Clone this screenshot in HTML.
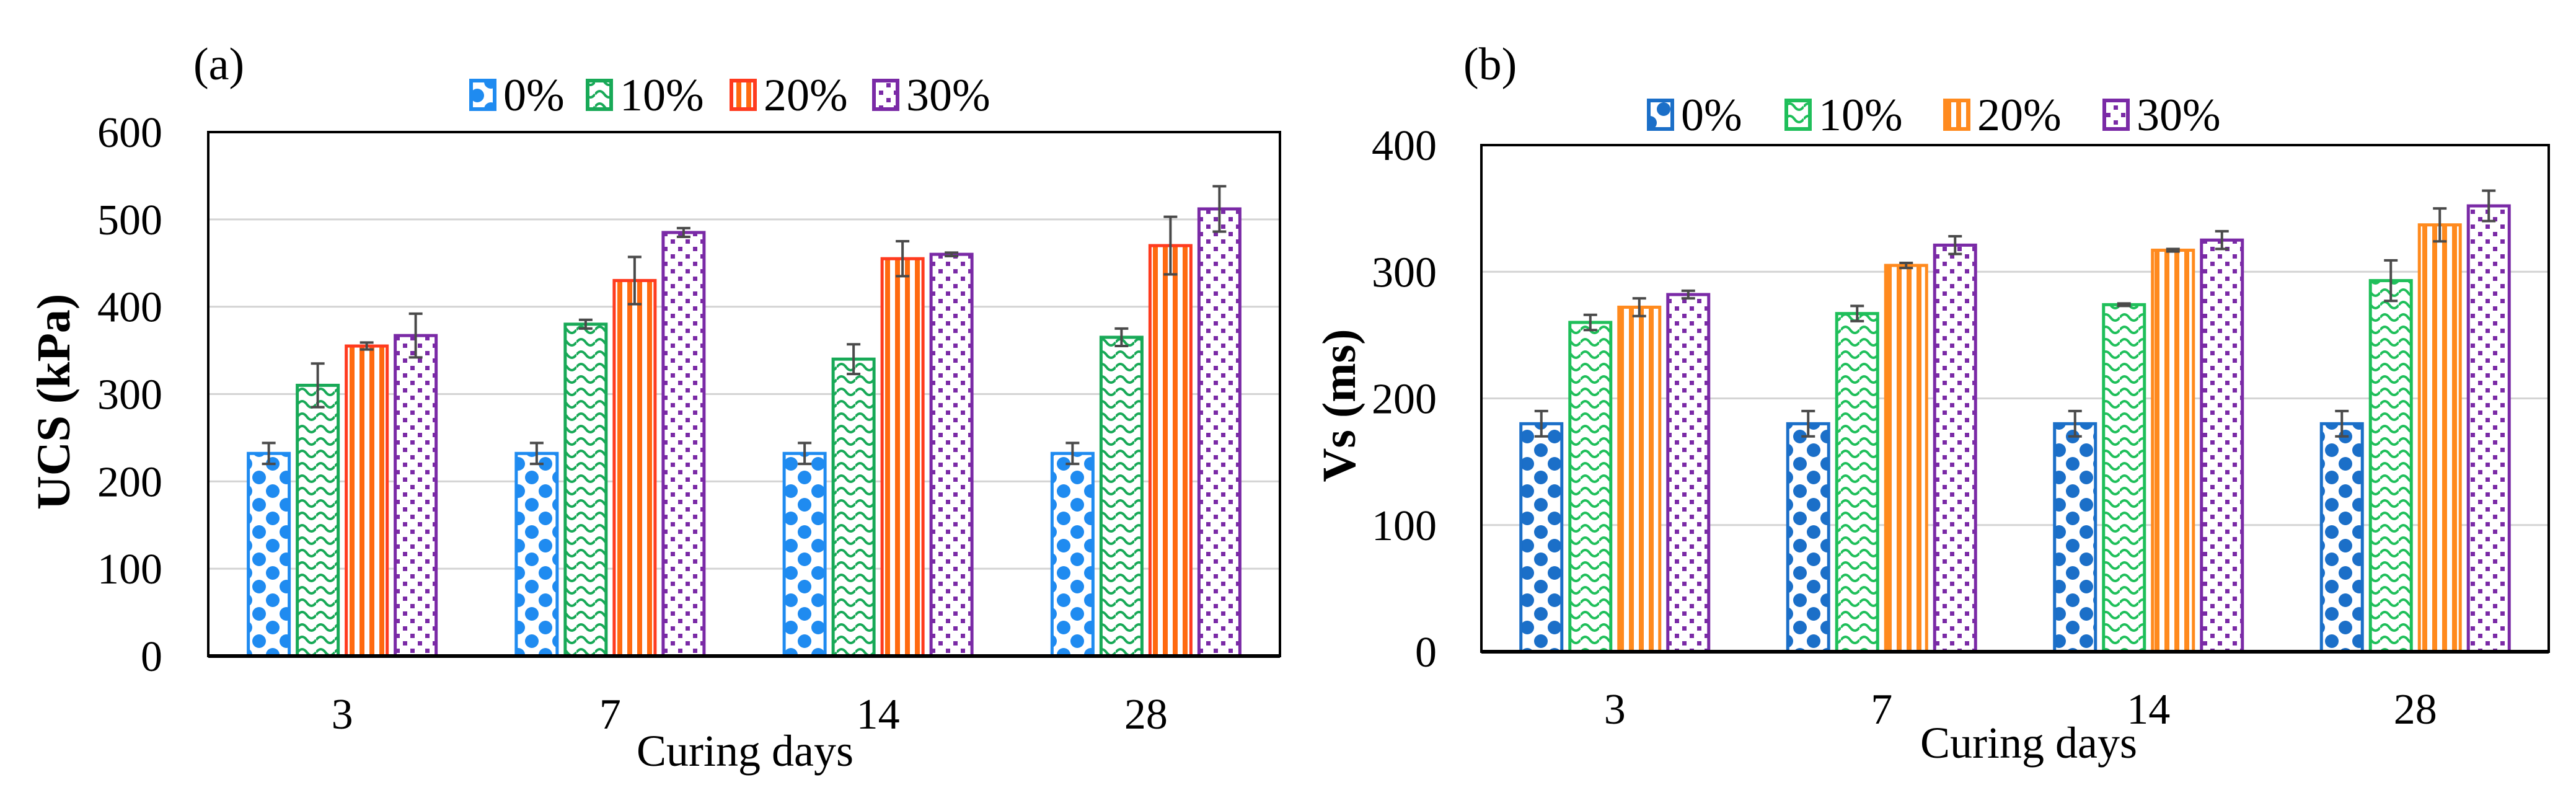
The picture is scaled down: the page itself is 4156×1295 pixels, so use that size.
<!DOCTYPE html>
<html><head><meta charset="utf-8"><style>
html,body{margin:0;padding:0;background:#fff;}
svg{display:block;font-family:"Liberation Serif",serif;}
</style></head><body>
<svg id="fig" width="4156" height="1295" viewBox="0 0 4156 1295" xmlns="http://www.w3.org/2000/svg">
<defs>
 <pattern id="pA0" patternUnits="userSpaceOnUse" width="44" height="44"><rect width="44" height="44" fill="#fff"/><circle cx="0" cy="0" r="11" fill="#1f8bf0"/><circle cx="44" cy="0" r="11" fill="#1f8bf0"/><circle cx="0" cy="44" r="11" fill="#1f8bf0"/><circle cx="44" cy="44" r="11" fill="#1f8bf0"/><circle cx="22" cy="22" r="11" fill="#1f8bf0"/></pattern>
 <pattern id="pB0" patternUnits="userSpaceOnUse" width="44" height="44"><rect width="44" height="44" fill="#fff"/><circle cx="0" cy="0" r="11" fill="#1b6fc8"/><circle cx="44" cy="0" r="11" fill="#1b6fc8"/><circle cx="0" cy="44" r="11" fill="#1b6fc8"/><circle cx="44" cy="44" r="11" fill="#1b6fc8"/><circle cx="22" cy="22" r="11" fill="#1b6fc8"/></pattern>
 <pattern id="pA1" patternUnits="userSpaceOnUse" width="30" height="20"><rect width="30" height="20" fill="#fff"/><path d="M0 12 Q7.5 2 15 12 T30 12" fill="none" stroke="#18a957" stroke-width="4"/></pattern>
 <pattern id="pB1" patternUnits="userSpaceOnUse" width="30" height="20"><rect width="30" height="20" fill="#fff"/><path d="M0 12 Q7.5 2 15 12 T30 12" fill="none" stroke="#1fbf5a" stroke-width="4"/></pattern>
 <pattern id="pA2" patternUnits="userSpaceOnUse" width="16" height="16"><rect width="16" height="16" fill="#fff"/><rect x="4" width="8" height="16" fill="#ff6a10"/></pattern>
 <pattern id="pB2" patternUnits="userSpaceOnUse" width="16" height="16"><rect width="16" height="16" fill="#fff"/><rect x="4" width="8" height="16" fill="#ff8a1e"/></pattern>
 <pattern id="pA3" patternUnits="userSpaceOnUse" width="24" height="24"><rect width="24" height="24" fill="#fff"/><rect x="2" y="2" width="7" height="7" fill="#7a2aa6"/><rect x="14" y="14" width="7" height="7" fill="#7a2aa6"/></pattern>
</defs>
<g id="root"></g>
</svg>
<script>
const categories = ["3", "7", "14", "28"];
const seriesNames = ["0%", "10%", "20%", "30%"];
const ucs0 = [232, 232, 232, 232];
const ucs10 = [310, 380, 340, 365];
const ucs20 = [355, 430, 455, 470];
const ucs30 = [367, 485, 460, 512];
const ucsErr0 = [12, 12, 12, 12];
const ucsErr10 = [25, 5, 17, 10];
const ucsErr20 = [4, 27, 20, 33];
const ucsErr30 = [25, 5, 2, 26];
const ucsTicks = [0, 100, 200, 300, 400, 500, 600];
const vs0 = [180, 180, 180, 180];
const vs10 = [260, 267, 274, 293];
const vs20 = [272, 305, 317, 337];
const vs30 = [282, 321, 325, 352];
const vsErr0 = [10, 10, 10, 10];
const vsErr10 = [6, 6, 1, 16];
const vsErr20 = [7, 2, 1, 13];
const vsErr30 = [3, 7, 7, 12];
const vsTicks = [0, 100, 200, 300, 400];

const NS = "http://www.w3.org/2000/svg";
const root = document.getElementById("root");
function mk(tag, attrs, parent, text) {
  const e = document.createElementNS(NS, tag);
  for (const k in attrs) e.setAttribute(k, attrs[k]);
  if (text !== undefined) e.textContent = text;
  (parent || root).appendChild(e);
  return e;
}

function drawPanel(P) {
  const g = mk("g", {});
  
  
  const yMax = P.ticks[P.ticks.length - 1];
  const y = v => P.bottom - (v / yMax) * (P.bottom - P.top);
  const catW = (P.right - P.left) / categories.length;
  const xc = i => P.left + catW * (i + 0.5);
  // gridlines
  P.ticks.forEach(t => {
    if (t > 0 && t < yMax) {
      const l = mk("line", {x1: P.left, x2: P.right, y1: y(t), y2: y(t), stroke: "#d4d4d4", "stroke-width": 3}, g);
      
      
    }
    const tl = mk("text", {x: P.tickX, y: y(t) + 24, "font-size": 70, "text-anchor": "end", fill: "#000"}, g, String(t));
    
    
  });
  // bars
  const bw = 66, pitch = 79;
  P.values.forEach((vals, s) => {
    vals.forEach((v, i) => {
      const x = xc(i) + (s - 1.5) * pitch - bw / 2;
      const r = mk("rect", {x: x, y: y(v), width: bw, height: P.bottom - y(v), fill: "url(#" + P.pats[s] + ")", stroke: P.strokes[s], "stroke-width": 5}, g);
      
      
      const e = P.errs[s][i], cx = x + bw / 2;
      const eb = mk("path", {d: `M${cx} ${y(v + e)}V${y(v - e)}M${cx - 11} ${y(v + e)}H${cx + 11}M${cx - 11} ${y(v - e)}H${cx + 11}`, stroke: "#4a4a4a", "stroke-width": 4, fill: "none"}, g);
      
      
    });
  });
  // frame
  const fr = mk("rect", {x: P.left, y: P.top, width: P.right - P.left, height: P.bottom - P.top, fill: "none", stroke: "#000", "stroke-width": 4}, g);
  
  
  const ax = mk("line", {x1: P.left, x2: P.right, y1: P.bottom, y2: P.bottom, stroke: "#000", "stroke-width": 6}, g);
  
  
  categories.forEach((c, i) => {
    const t = mk("text", {x: xc(i), y: P.xTickY, "font-size": 70, "text-anchor": "middle"}, g, c);
    
    
  });
  const xt = mk("text", {x: P.xTitleX, y: P.xTitleY, "font-size": 72, "text-anchor": "middle"}, g, "Curing days");
  
  
  const yt = mk("text", {x: 0, y: 0, "font-size": 76, "font-weight": "bold", "text-anchor": "middle", transform: `translate(${P.yTitleX},${P.yTitleY}) rotate(-90)`}, g, P.yTitle);
  
  
  const lab = mk("text", {x: P.labX, y: P.labY, "font-size": 74}, g, P.label);
  
  
  // legend
  P.legX.forEach((lx, s) => {
    const lg = mk("g", {}, g);
    
    
    mk("rect", {x: lx, y: P.legY - 48, width: 38, height: 46, fill: "url(#" + P.pats[s] + ")", stroke: P.strokes[s], "stroke-width": 6}, lg);
    mk("text", {x: lx + 52, y: P.legY, "font-size": 74}, lg, seriesNames[s]);
  });
}

drawPanel({name: "ucs-chart", left: 336, right: 2065, top: 213, bottom: 1058, ticks: ucsTicks,
  values: [ucs0, ucs10, ucs20, ucs30], errs: [ucsErr0, ucsErr10, ucsErr20, ucsErr30],
  pats: ["pA0", "pA1", "pA2", "pA3"], strokes: ["#1f8bf0", "#18a957", "#ff3b1f", "#7a2aa6"],
  tickX: 262, xTickY: 1175, xTitleX: 1202, xTitleY: 1235, yTitle: "UCS (kPa)", yTitleX: 112, yTitleY: 648,
  label: "(a)", labX: 312, labY: 128, legX: [760, 948, 1180, 1410], legY: 178});
drawPanel({name: "vs-chart", left: 2390, right: 4112, top: 234, bottom: 1051, ticks: vsTicks,
  values: [vs0, vs10, vs20, vs30], errs: [vsErr0, vsErr10, vsErr20, vsErr30],
  pats: ["pB0", "pB1", "pB2", "pA3"], strokes: ["#1b6fc8", "#1fbf5a", "#ff8a1e", "#7a2aa6"],
  tickX: 2318, xTickY: 1167, xTitleX: 3273, xTitleY: 1222, yTitle: "Vs (ms)", yTitleX: 2186, yTitleY: 654,
  label: "(b)", labX: 2361, labY: 128, legX: [2660, 2882, 3138, 3395], legY: 210});
</script>
</body></html>
